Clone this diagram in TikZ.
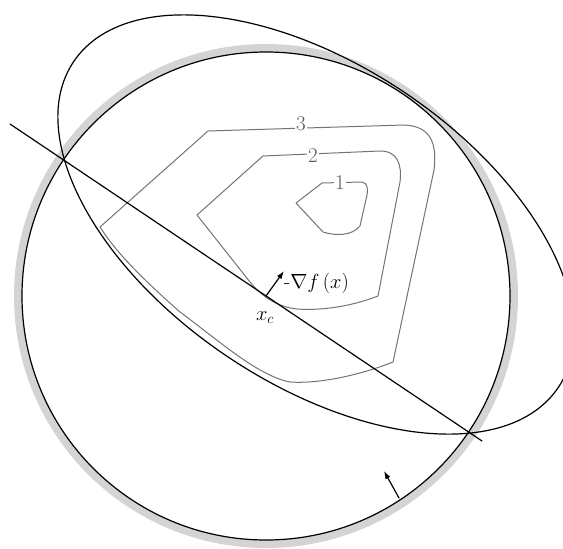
\RequirePackage{fix-cm}
\documentclass[tikz,border=0pt]{standalone}
\usetikzlibrary{arrows.meta}
\begin{document}
\begin{tikzpicture}[x=1pt, y=-1pt, line cap=round, line join=round]
% Cutting-plane step of the ellipsoid method
\def\ballr{244}
\providecommand{\cutBandColor}{black!17}
\providecommand{\cutLevelColor}{black!55}
\providecommand{\cutLineWidth}{1.2pt}
\providecommand{\cutLevelWidth}{1pt}
\tikzset{
  lvlline/.style={draw=\cutLevelColor, line width=\cutLevelWidth},
  lvlnum/.style={fill=white, inner sep=1.5pt, text=black!65, font=\fontsize{21}{23}\selectfont},
  cutlabel/.style={inner sep=1pt, font=\fontsize{20.5}{23}\selectfont},
  steparrow/.style={line width=\cutLineWidth, -{Latex[length=8pt,width=5.5pt]}}
}
\useasboundingbox (0,0) rectangle (563,549);
\clip (0,0) rectangle (563,549);
% Points
\coordinate (xc) at (266,296);
\coordinate (cutA) at (10,124);
\coordinate (cutB) at (482,441);
\coordinate (gtip) at (284,271);
\coordinate (rim) at (399,498);
\coordinate (rimtip) at (384,471);
% Ball: gray band, then outline
\draw[draw=\cutBandColor, line width=8pt] (xc) circle [radius=248];
\draw[line width=\cutLineWidth] (xc) circle [radius=\ballr];
% Level sets
\begin{scope}[lvlline]
  % level 3
  \draw (100,227) -- (208,131) -- (404,125) .. controls (432,126) and (437,145) .. (434,170)
    -- (393,362) .. controls (360,375) and (320,384) .. (290,382)
    .. controls (258,376) and (218,340) .. (180,312)
    .. controls (145,281) and (118,255) .. cycle;
  % level 2
  \draw (197,215) -- (263,156) -- (380,151) .. controls (398,151) and (402,165) .. (400,182)
    -- (378,296) .. controls (355,305) and (325,311) .. (297,309)
    .. controls (278,307) and (262,297) .. (250,282) -- cycle;
  % level 1
  \draw (296,203) -- (322,183) -- (362,182) .. controls (368,183) and (368,190) .. (367,195)
    -- (360,226) .. controls (352,236) and (335,236) .. (323,232) -- cycle;
\end{scope}
\node[lvlnum] (lvl3) at (301,124) {3};
\node[lvlnum] (lvl2) at (313,156) {2};
\node[lvlnum] (lvl1) at (340,183) {1};
% New ellipsoid
\draw[line width=\cutLineWidth, shift={(316,224.5)}, rotate=-33.9]
  (0,0) ellipse [x radius=292, y radius=159];
% Cutting line through the center
\draw[line width=\cutLineWidth] (cutA) -- (cutB);
% Arrows
\draw[steparrow] (xc) -- (gtip);
\draw[steparrow] (rim) -- (rimtip);
\node[cutlabel, anchor=west] (glabel) at (283,283) {-$\nabla f\,(x)$};
\node[cutlabel] (xclabel) at (265,318) {$x_c$};
\end{tikzpicture}
\end{document}
